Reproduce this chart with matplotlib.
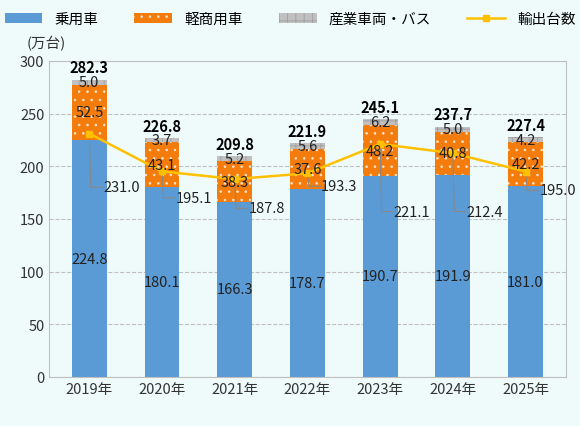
import numpy as np
import matplotlib.pyplot as plt

plt.rcParams['font.family'] = ['Noto Sans CJK JP', 'DejaVu Sans']
plt.rcParams['hatch.linewidth'] = 0.6

years = ['2019年', '2020年', '2021年', '2022年', '2023年', '2024年', '2025年']
passenger = [224.8, 180.1, 166.3, 178.7, 190.7, 191.9, 181.0]
light_comm = [52.5, 43.1, 38.3, 37.6, 48.2, 40.8, 42.2]
industrial = [5.0, 3.7, 5.2, 5.6, 6.2, 5.0, 4.2]
totals = [282.3, 226.8, 209.8, 221.9, 245.1, 237.7, 227.4]
exports = [231.0, 195.1, 187.8, 193.3, 221.1, 212.4, 195.0]
# ラベル位置 (データ座標)
export_label_y = [180, 170, 160, 181, 157, 157, 177]

bg = '#effbfb'
fig = plt.figure(figsize=(5.8, 4.27), dpi=100, facecolor=bg)
ax = fig.add_axes([0.085, 0.115, 0.89, 0.74], facecolor=bg)

x = np.arange(len(years))
w = 0.48
b1 = ax.bar(x, passenger, w, color='#5b9bd5', label='乗用車', zorder=2)
b2 = ax.bar(x, light_comm, w, bottom=passenger, color='#f47c0c', hatch='..',
            edgecolor='#fde6cc', linewidth=0, label='軽商用車', zorder=2)
bot3 = np.array(passenger) + np.array(light_comm)
b3 = ax.bar(x, industrial, w, bottom=bot3, color='#c0c0c0', hatch='++',
            edgecolor='#a0a0a0', linewidth=0, label='産業車両・バス', zorder=2)
ln, = ax.plot(x, exports, color='#ffc000', marker='s', markersize=5, lw=1.8,
              label='輸出台数', zorder=4)

for i in range(len(x)):
    ax.text(x[i], passenger[i] / 2, f'{passenger[i]:.1f}', ha='center', va='center', fontsize=10.5, color='#222222', zorder=5)
    ax.text(x[i], passenger[i] + light_comm[i] / 2, f'{light_comm[i]:.1f}', ha='center', va='center', fontsize=10.5, color='#222222', zorder=5)
    ax.text(x[i], bot3[i] + industrial[i] / 2, f'{industrial[i]:.1f}', ha='center', va='center', fontsize=10.5, color='#222222', zorder=5)
    ax.text(x[i], totals[i] + 4, f'{totals[i]:.1f}', ha='center', va='bottom', fontsize=10.5, fontweight='bold', zorder=5)
    ly = export_label_y[i]
    ax.plot([x[i], x[i] + 0.02, x[i] + 0.18], [exports[i], ly, ly], color='#888888', lw=0.8, zorder=3)
    ax.text(x[i] + 0.19, ly, f'{exports[i]:.1f}', ha='left', va='center', fontsize=10.5, color='#222222', zorder=5)

ax.set_xlim(-0.55, len(x) - 0.45)
ax.set_ylim(0, 300)
ax.set_yticks(range(0, 301, 50))
ax.set_xticks(x)
ax.set_xticklabels(years)
ax.tick_params(length=0, labelsize=10.5, colors='#333333')
ax.yaxis.grid(True, linestyle='--', color='#bfbfbf', lw=0.8, zorder=0)
for s in ax.spines.values():
    s.set_color('#bfbfbf')
ax.text(-0.005, 1.035, '(万台)', transform=ax.transAxes, fontsize=10.5, ha='center', va='bottom', color='#333333')

fig.legend(handles=[b1, b2, b3, ln], loc='upper center', bbox_to_anchor=(0.5, 1.0), ncol=4,
           frameon=False, fontsize=10.5, handlelength=2.6, columnspacing=2.5)

fig.savefig('out.png', facecolor=bg)
